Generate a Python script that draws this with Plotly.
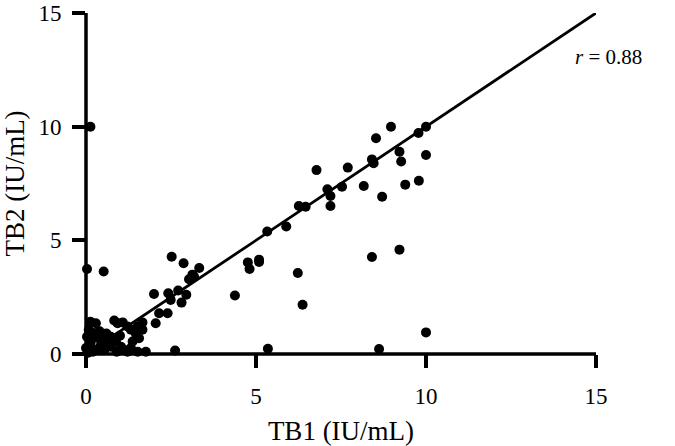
import plotly.graph_objects as go

# TB1 vs TB2 (IU/mL)
tb1 = [0.13, 0.03, 0.52, 8.97, 8.53, 10.0, 9.78, 7.70, 6.78, 8.41, 8.46, 9.22, 9.27, 10.0,
       7.53, 8.17, 8.71, 9.39, 9.79, 7.10, 7.19, 7.19, 6.26, 6.46, 5.33, 5.89,
       4.76, 4.81, 5.09, 5.09,
       2.52, 2.87, 3.33, 3.13, 3.03, 3.18, 2.71, 2.95, 2.42, 2.00, 2.49, 2.81, 2.40, 2.15, 2.05,
       4.38, 6.23, 6.37, 5.35, 8.62, 10.0, 8.41, 9.22, 2.62,
       1.66, 1.52, 1.22, 1.08, 0.83, 0.93, 1.32, 1.66, 1.47, 1.56, 1.37, 0.73, 0.88, 0.54, 0.44,
       0.13, 0.29, 0.08, 0.03, 0.13, 0.23, 0.38, 0.73, 1.03, 1.12, 1.32, 1.22, 1.52, 1.76,
       0.00, 0.54, 0.63, 0.05, 0.20, 0.10, 0.30, 0.90, 0.60, 0.40, 0.15, 1.00]
tb2 = [10.0, 3.74, 3.63, 10.0, 9.49, 10.0, 9.72, 8.20, 8.09, 8.56, 8.39, 8.90, 8.47, 8.75,
       7.36, 7.39, 6.92, 7.45, 7.62, 7.25, 6.95, 6.51, 6.51, 6.48, 5.39, 5.61,
       4.03, 3.74, 4.15, 4.05,
       4.28, 3.99, 3.78, 3.49, 3.29, 3.40, 2.79, 2.61, 2.67, 2.64, 2.38, 2.26, 1.79, 1.79, 1.35,
       2.57, 3.56, 2.17, 0.23, 0.22, 0.95, 4.27, 4.59, 0.15,
       1.39, 1.21, 1.21, 1.39, 1.47, 1.35, 1.07, 1.07, 0.88, 0.69, 0.55, 0.76, 0.55, 0.62, 0.40,
       1.42, 1.35, 1.07, 0.76, 0.47, 0.92, 0.69, 0.32, 0.32, 0.18, 0.26, 0.10, 0.10, 0.10,
       0.26, 0.18, 0.47, 0.05, 0.10, 0.30, 0.20, 0.10, 0.90, 1.00, 0.60, 0.80]

fit_x = [0, 15]
fit_y = [0, 15]

tick_vals = [0, 5, 10, 15]
tick_text = ["0", "5", "10", "15"]
r_label = "<i>r</i> = 0.88"

FONT = "Liberation Serif"
W, H = 675, 446
pw, ph = 511.0, 341.0
ml, mt = 85.5, 13.3
mr, mb = W - ml - pw, H - mt - ph
LW = 3.5
TL = 13

fig = go.Figure()
fig.add_trace(go.Scatter(x=fit_x, y=fit_y, mode="lines",
                         line=dict(color="black", width=2.8),
                         cliponaxis=False, hoverinfo="skip"))
fig.add_trace(go.Scatter(x=tb1, y=tb2, mode="markers",
                         marker=dict(color="black", size=10),
                         cliponaxis=False))

axis_common = dict(range=[0, 15], tickvals=tick_vals, ticktext=tick_text,
                   showgrid=False, zeroline=False, showline=False,
                   ticks="outside", ticklen=TL, tickwidth=LW, tickcolor="black",
                   ticklabeloverflow="allow",
                   tickfont=dict(family=FONT, size=23, color="black"))

fig.update_xaxes(**axis_common, ticklabelstandoff=8,
                 title=dict(text="TB1 (IU/mL)", font=dict(family=FONT, size=27, color="black"),
                            standoff=16))
fig.update_yaxes(**axis_common, ticklabelstandoff=6,
                 title=dict(text="TB2 (IU/mL)", font=dict(family=FONT, size=27, color="black"),
                            standoff=14))

# axis lines (Prism-style, extended to tick length)
fig.add_shape(type="line", xref="paper", yref="paper",
              x0=-TL / pw, x1=1, y0=0, y1=0, line=dict(color="black", width=LW))
fig.add_shape(type="line", xref="paper", yref="paper",
              x0=0, x1=0, y0=-TL / ph, y1=1, line=dict(color="black", width=LW))

fig.add_annotation(text=r_label, xref="paper", yref="paper",
                   x=(645 - 85.5) / pw, y=(354.3 - 57) / ph,
                   xanchor="right", yanchor="middle", showarrow=False,
                   font=dict(family=FONT, size=21, color="black"))

fig.update_layout(width=W, height=H, showlegend=False,
                  margin=dict(l=ml, r=mr, t=mt, b=mb, autoexpand=False),
                  plot_bgcolor="white", paper_bgcolor="white")

fig.write_html("out.html", config={"displayModeBar": False},
               post_script="document.body.style.margin='0px';document.body.style.overflow='hidden';")
